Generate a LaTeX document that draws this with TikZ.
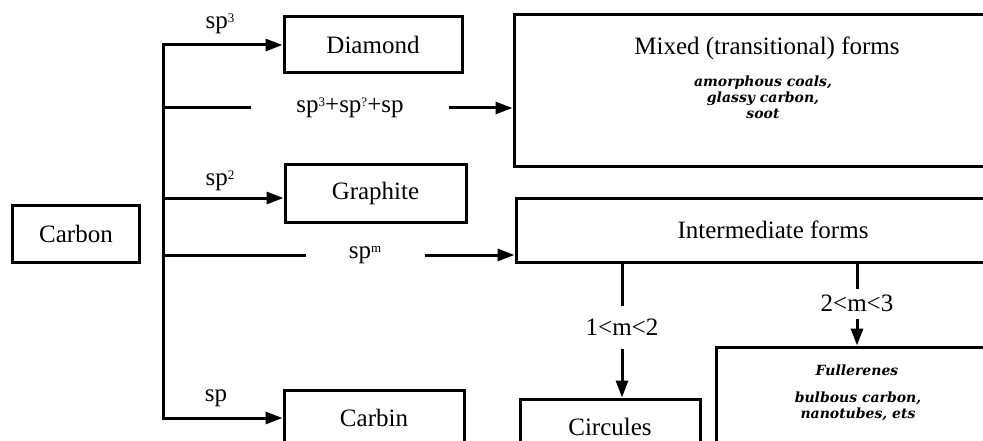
\documentclass[tikz,border=0pt]{standalone}
\usepackage{fontspec}
\setmainfont{Liberation Serif}
\newfontfamily\listfont{DejaVu Serif}
\usetikzlibrary{arrows.meta}
\newcommand{\upidx}[1]{\raisebox{6pt}{\fontsize{13}{13}\selectfont #1}}

\tikzset{
    box/.style={draw, line width=3pt, inner sep=0pt, font=\fontsize{25}{30}\selectfont},
    lbl/.style={inner sep=0pt, font=\fontsize{25}{30}\selectfont},
    lst/.style={align=center, inner sep=0pt, font=\listfont\bfseries\itshape\fontsize{14}{16}\selectfont},
    arr/.style={-{Triangle[length=17pt, width=12pt]}},
}

\begin{document}
\begin{tikzpicture}[x=1pt, y=-1pt, line width=3pt]
    \useasboundingbox (0,0) rectangle (983,441);
    \clip (0,0) rectangle (983,441);

    \node[box, minimum width=127pt, minimum height=57pt] (carbon) at (76, 233.5) {Carbon};
    \node[box, minimum width=178pt, minimum height=56pt] (diamond) at (373, 45) {Diamond};
    \node[box, minimum width=181pt, minimum height=57pt] (graphite) at (375.5, 193.5) {Graphite};
    \node[box, minimum width=180pt, minimum height=56pt] (carbin) at (374, 418) {Carbin};
    \node[box, minimum width=506pt, minimum height=152pt] (mixed) at (767, 91) {};
    \node[box, minimum width=514pt, minimum height=64pt] (inter) at (773, 230) {Intermediate forms};
    \node[box, minimum width=180pt, minimum height=56pt] (circules) at (610, 427) {Circules};
    \node[box, minimum width=282pt, minimum height=120pt] (fuller) at (857, 407) {};

    \node[lbl] (mixtitle) at (767, 48) {Mixed (transitional) forms};
    \node[lst] (mixlist) at (763, 97) {amorphous coals,\\glassy carbon,\\soot};
    \node[lst] (fulltitle) at (857, 370) {Fullerenes};
    \node[lst] (fulllist) at (858, 406.5) {bulbous carbon,\\nanotubes, ets};

    \coordinate (t1) at (163, 45);
    \coordinate (t2) at (163, 108);
    \coordinate (t3) at (163, 198);
    \coordinate (t4) at (163, 255);
    \coordinate (t5) at (163, 418);

    \node[lbl] (lsp3) at (220, 24) {sp\upidx{3}};
    \node[lbl] (lsp2) at (220, 181) {sp\upidx{2}};
    \node[lbl] (lsp) at (216, 398) {sp};
    \node[lbl, minimum width=195pt] (lmix) at (350, 108) {sp\upidx{3}+sp\upidx{?}+sp};
    \node[lbl, minimum width=116pt] (lspm) at (365, 255) {sp\upidx{m}};
    \node[lbl, minimum height=40pt] (l12) at (622, 327) {1<m<2};
    \node[lbl, minimum height=27pt] (l23) at (857, 303.5) {2<m<3};

    \draw[line cap=rect] (t1) -- (t5);
    \draw[arr] (t1) -- (t1 -| diamond.west);
    \draw[arr] (t3) -- (t3 -| graphite.west);
    \draw[arr] (t5) -- (t5 -| carbin.west);
    \draw (t2) -- (lmix);
    \draw[arr] (lmix) -- (lmix -| mixed.west);
    \draw (t4) -- (lspm);
    \draw[arr] (lspm) -- (lspm -| inter.west);
    \draw (inter.south -| l12) -- (l12);
    \draw[arr] (l12) -- (l12 |- circules.north);
    \draw (inter.south -| l23) -- (l23);
    \draw[arr] (l23) -- (l23 |- fuller.north);
\end{tikzpicture}
\end{document}
